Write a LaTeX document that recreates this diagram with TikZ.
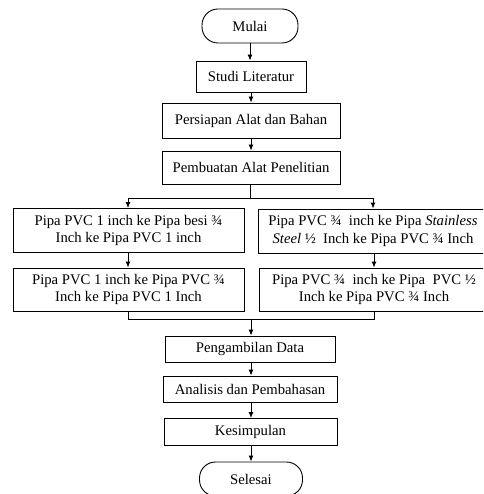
\documentclass[tikz,border=0pt]{standalone}
\usepackage{fontspec}
\setmainfont{Liberation Serif}
\usetikzlibrary{arrows.meta}
\begin{document}
\begin{tikzpicture}[x=1pt,y=-1pt,
  box/.style={draw,line width=0.9pt,inner sep=0pt,align=center,font=\fontsize{14.7}{17.5}\selectfont},
  term/.style={box,rounded corners=16pt},
  arr/.style={line width=0.9pt,-{Latex[length=6pt,width=5pt]}},
  ln/.style={line width=0.9pt}]
\useasboundingbox (0,0) rectangle (483,494);
\clip (0,0) rectangle (483,494);
\node[term,minimum width=96pt,minimum height=34pt] (mulai) at (250,26) {Mulai};
\node[box,minimum width=110pt,minimum height=31pt] (studi) at (251,76.5) {Studi Literatur};
\node[box,minimum width=178pt,minimum height=35pt] (persiapan) at (251,120.5) {Persiapan Alat dan Bahan};
\node[box,minimum width=178pt,minimum height=33pt] (pembuatan) at (251,167.5) {Pembuatan Alat Penelitian};
\node[box,minimum width=231pt,minimum height=44pt] (l1) at (128.5,230.5) {Pipa PVC 1 inch ke Pipa besi ¾\\Inch ke Pipa PVC 1 inch};
\node[box,minimum width=230pt,minimum height=44pt] (r1) at (373,231) {Pipa PVC ¾\ \ inch ke Pipa \textit{Stainless}\\\textit{Steel} ½\ \ Inch ke Pipa PVC ¾ Inch};
\node[box,minimum width=231pt,minimum height=43pt] (l2) at (128.5,289.5) {Pipa PVC 1 inch ke Pipa PVC ¾\\Inch ke Pipa PVC 1 Inch};
\node[box,minimum width=230pt,minimum height=43pt] (r2) at (374,289.5) {Pipa PVC ¾\ \ inch ke Pipa\ \ PVC ½\\Inch ke Pipa PVC ¾ Inch};
\node[box,minimum width=170pt,minimum height=26pt] (data) at (250,349) {Pengambilan Data};
\node[box,minimum width=174pt,minimum height=26pt] (analisis) at (250,389) {Analisis dan Pembahasan};
\node[box,minimum width=173pt,minimum height=27pt] (kesimpulan) at (250.5,432) {Kesimpulan};
\node[term,minimum width=103pt,minimum height=34pt] (selesai) at (251,479) {Selesai};
\coordinate (s) at (250,198);
\coordinate (sl) at (128,198);
\coordinate (sr) at (373,198);
\coordinate (m) at (251,319);
\coordinate (ml) at (128,319);
\coordinate (mr) at (374,319);
\draw[arr] (mulai.south) -- (mulai.south |- studi.north);
\draw[arr] (studi.south) -- (studi.south |- persiapan.north);
\draw[arr] (persiapan.south) -- (persiapan.south |- pembuatan.north);
\draw[ln] (pembuatan.south -| s) -- (s);
\draw[ln] (sl) -- (sr);
\draw[arr] (sl) -- (sl |- l1.north);
\draw[arr] (sr) -- (sr |- r1.north);
\draw[arr] (l1.south -| sl) -- (sl |- l2.north);
\draw[arr] (r1.south -| mr) -- (mr |- r2.north);
\draw[ln] (l2.south -| ml) -- (ml) -- (mr) -- (mr |- r2.south);
\draw[arr] (m) -- (m |- data.north);
\draw[arr] (data.south -| m) -- (m |- analisis.north);
\draw[arr] (analisis.south -| m) -- (m |- kesimpulan.north);
\draw[arr] (kesimpulan.south -| m) -- (m |- selesai.north);
\end{tikzpicture}
\end{document}
